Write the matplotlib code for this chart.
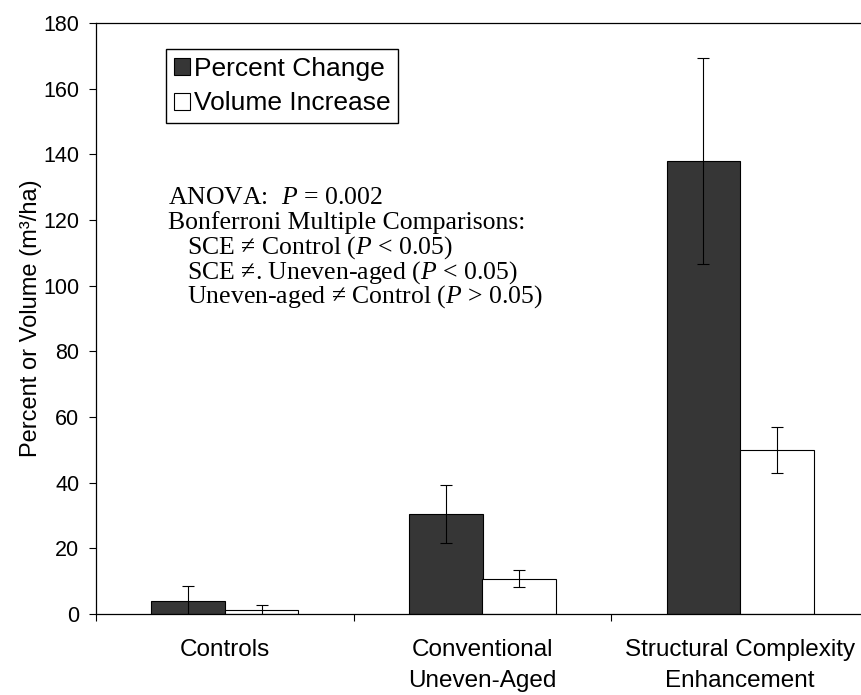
import numpy as np
import matplotlib.pyplot as plt

plt.rcParams["font.family"] = ["Liberation Sans", "DejaVu Sans"]
plt.rcParams["mathtext.fontset"] = "custom"
plt.rcParams["mathtext.rm"] = "Liberation Serif"
plt.rcParams["mathtext.it"] = "Liberation Serif:italic"

# treatment groups and means (+/- SE)
groups = ["Controls", "Conventional\nUneven-Aged", "Structural Complexity\nEnhancement"]
pct_change = [4.0, 30.5, 138.0]
pct_change_err = [4.6, 8.9, 31.4]
vol_increase = [1.2, 10.8, 50.0]
vol_increase_err = [1.5, 2.6, 7.0]

stats_lines = [
    "ANOVA:  $P$ = 0.002",
    "Bonferroni Multiple Comparisons:",
    "   SCE \u2260 Control ($P$ < 0.05)",
    "   SCE \u2260. Uneven-aged ($P$ < 0.05)",
    "   Uneven-aged \u2260 Control ($P$ > 0.05)",
]

W, H = 861, 695
fig = plt.figure(figsize=(W / 100, H / 100), dpi=100)
ax = fig.add_axes([96 / W, 1 - 614 / H, (869 - 96) / W, (614 - 23) / H])

x = np.arange(len(groups))
width = 1 / 3.5

ax.bar(x - width / 2, pct_change, width, color="#363636", edgecolor="black",
       linewidth=0.8, label="Percent Change", zorder=2)
ax.bar(x + width / 2, vol_increase, width, color="white", edgecolor="black",
       linewidth=0.8, label="Volume Increase", zorder=2)
ax.errorbar(x - width / 2, pct_change, yerr=pct_change_err, fmt="none",
            ecolor="black", elinewidth=0.8, capsize=4, capthick=0.8, zorder=3)
ax.errorbar(x + width / 2, vol_increase, yerr=vol_increase_err, fmt="none",
            ecolor="black", elinewidth=0.8, capsize=4, capthick=0.8, zorder=3)

ax.set_xlim(-0.5, len(groups) - 0.5)
ax.set_ylim(0, 180)
ax.set_yticks(np.arange(0, 181, 20))
ax.tick_params(axis="y", labelsize=15.5, length=5, width=0.8, direction="out", pad=7)

# category boundaries get the tick marks, centres get the labels
ax.set_xticks(np.arange(len(groups) + 1) - 0.5)
ax.set_xticklabels([])
ax.tick_params(axis="x", which="major", length=5, width=0.8, direction="out")
ax.set_xticks(x, minor=True)
ax.set_xticklabels(groups, minor=True, fontsize=17.5, linespacing=1.55)
ax.tick_params(axis="x", which="minor", length=0, pad=18)

for s in ax.spines.values():
    s.set_linewidth(0.9)

ax.set_ylabel("Percent or Volume (m\u00b3/ha)", fontsize=17)
ax.yaxis.set_label_coords(-0.07, 0.5)

ax.legend(loc="upper left", bbox_to_anchor=(166 / W, 1 - 49 / H),
          bbox_transform=fig.transFigure, fontsize=19, frameon=True,
          fancybox=False, edgecolor="black", framealpha=1,
          handlelength=0.6, handleheight=0.6, handletextpad=0.15,
          borderpad=0.3, borderaxespad=0, labelspacing=0.4)

# stats summary, one line at a time
line_step = 24.75
for i, line in enumerate(stats_lines):
    fig.text(168 / W, 1 - (204 + i * line_step) / H, line,
             family="Liberation Serif", fontsize=18.5, va="baseline", ha="left")

fig.savefig("out.png", dpi=100)
